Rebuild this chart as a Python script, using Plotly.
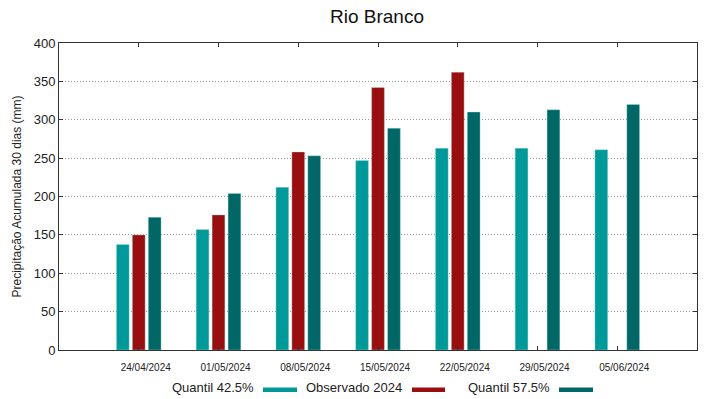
import plotly.graph_objects as go

dates = ["24/04/2024", "01/05/2024", "08/05/2024", "15/05/2024", "22/05/2024", "29/05/2024", "05/06/2024"]
q425 = [137.5, 157, 212, 247, 263, 263, 261]
obs2024 = [150, 176, 258, 342, 362, None, None]
q575 = [173, 204, 253, 289, 310, 313, 320]

names = ["Quantil 42.5%", "Observado 2024", "Quantil 57.5%"]
colors = ["#009999", "#990f0f", "#006666"]
series = [q425, obs2024, q575]

fig = go.Figure()
for name, vals, col in zip(names, series, colors):
    fig.add_trace(go.Bar(
        x=dates, y=vals, name=name,
        marker=dict(color=col, line=dict(color="rgba(180,230,230,0.6)", width=0.6)),
        showlegend=False,
    ))

W, H = 719, 399
L, R, T, B = 59, 697, 43, 350

fig.update_layout(
    width=W, height=H,
    margin=dict(l=L, r=W - R, t=T, b=H - B),
    paper_bgcolor="white", plot_bgcolor="white",
    barmode="group", bargap=0.4, bargroupgap=0.2,
    font=dict(family="Liberation Sans, Arial, sans-serif", color="#222222"),
    title=dict(text="Rio Branco", x=377 / W, xanchor="center",
               y=1 - 16 / H, yanchor="middle", font=dict(size=19, color="#111111")),
    xaxis=dict(
        type="category", range=[-1, 7],
        showline=True, linecolor="#333333", linewidth=1, mirror="ticks",
        ticks="inside", ticklen=4, tickcolor="#333333",
        tickfont=dict(size=10, color="#222222"),
        ticklabelstandoff=8, ticklabelshift=7,
        showgrid=False, zeroline=False,
    ),
    yaxis=dict(
        range=[0, 400], dtick=50,
        showline=True, linecolor="#333333", linewidth=1, mirror="ticks",
        ticks="inside", ticklen=4, tickcolor="#333333",
        tickfont=dict(size=13, color="#222222"),
        showgrid=True, gridcolor="#999999", griddash="1px,2px", gridwidth=1,
        zeroline=False,
        title=dict(text="Precipitação Acumulada 30 dias (mm)", font=dict(size=12, color="#222222"),
                   standoff=9),
    ),
)

# legend drawn gnuplot-style: text followed by sample line
legend_items = [
    (names[0], colors[0], 256, 263, 297),
    (names[1], colors[1], 404, 412, 445),
    (names[2], colors[2], 552, 559, 593),
]
ly = 387
for text, col, tx, sx0, sx1 in legend_items:
    fig.add_annotation(text=text, xref="paper", yref="paper",
                       x=(tx - L) / (R - L), y=(B - ly) / (B - T),
                       xanchor="right", yanchor="middle", showarrow=False,
                       font=dict(size=13, color="#222222"))
    fig.add_shape(type="rect", xref="paper", yref="paper",
                  x0=(sx0 - L) / (R - L), x1=(sx1 - L) / (R - L),
                  y0=(B - 392) / (B - T), y1=(B - 387.5) / (B - T),
                  fillcolor=col, line=dict(width=0))

fig.write_html("out.html", config={"displayModeBar": False},
               post_script="document.body.style.margin='0';document.body.style.overflow='hidden';")
